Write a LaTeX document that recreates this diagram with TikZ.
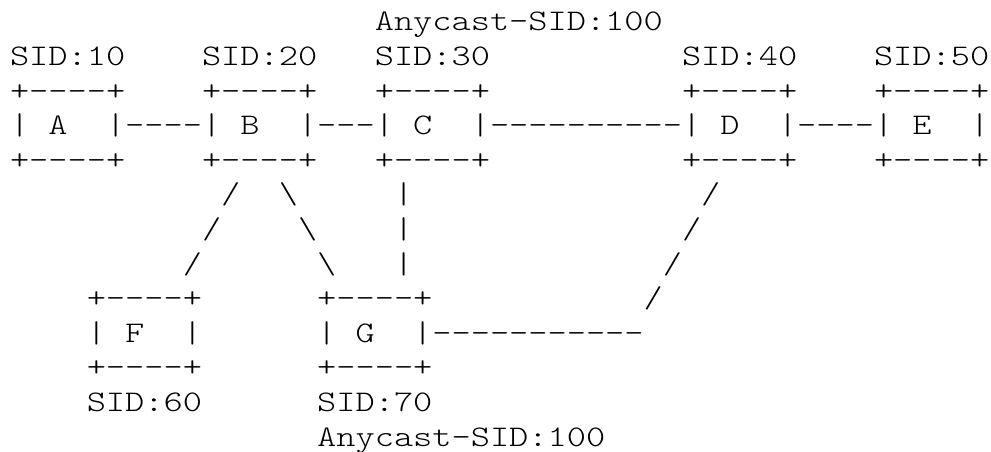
\documentclass[tikz,border=0pt]{standalone}
\usepackage{tikz}
\begin{document}
\begin{tikzpicture}[
  x=4.90875pt, y=-10.8125pt, xscale=1.2223,
  every node/.style={anchor=base west, inner sep=0pt, outer sep=0pt,
    transform shape, font=\ttfamily\fontseries{l}\fontsize{9.35pt}{9.35pt}\selectfont}]
\useasboundingbox (-0.5208,-0.893) rectangle (51.094,12.17);
% upper row of routers
\node (anyC) at (19,0) {Anycast-SID:100};
\foreach \n/\c/\s in {A/0/10,B/10/20,C/19/30,D/35/40,E/45/50}{
  \node (sid\n) at (\c,1) {SID:\s};
  \node (top\n) at (\c,2) {+----+};
  \node (box\n) at (\c,3) {|~\n~~|};
  \node (bot\n) at (\c,4) {+----+};
}
% links between them
\node (ab) at (6,3) {----};
\node (bc) at (16,3) {---};
\node (cd) at (25,3) {----------};
\node (de) at (41,3) {----};
% lower routers
\foreach \n/\c/\s in {F/4/60,G/16/70}{
  \node (top\n) at (\c,8) {+----+};
  \node (box\n) at (\c,9) {|~\n~~|};
  \node (bot\n) at (\c,10) {+----+};
  \node (sid\n) at (\c,11) {SID:\s};
}
\node (anyG) at (16,12) {Anycast-SID:100};
% links down to F and G
\foreach \r/\c in {5/11,6/10,7/9} \node (bf\r) at (\c,\r) {/};
\foreach \r/\c in {5/14,6/15,7/16} \node (bg\r) at (\c,\r) {\textbackslash};
\foreach \r in {5,6,7} \node (cg\r) at (20,\r) {|};
\foreach \r/\c in {5/36,6/35,7/34,8/33} \node (dg\r) at (\c,\r) {/};
\node (gd) at (22,9) {-----------};
\end{tikzpicture}
\end{document}
